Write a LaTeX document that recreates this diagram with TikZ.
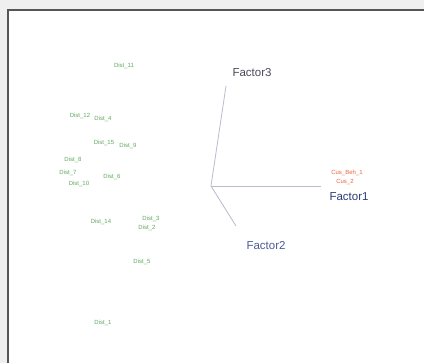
\documentclass[tikz,border=0pt]{standalone}
\usepackage{fontspec}
\setmainfont{Liberation Sans}
\definecolor{bggray}{HTML}{EEEFEE}
\definecolor{frame}{HTML}{555555}
\definecolor{axisline}{HTML}{BCBCCC}
\definecolor{distgreen}{HTML}{5FA860}
\definecolor{cusred}{HTML}{E8643C}
\definecolor{fone}{HTML}{2C3C78}
\definecolor{ftwo}{HTML}{4C5C98}
\definecolor{fthree}{HTML}{4A4A58}
\begin{document}
\begin{tikzpicture}[x=1pt,y=-1pt,
  dist/.style={text=distgreen,font=\fontsize{6}{6}\selectfont,inner sep=0pt},
  cus/.style={text=cusred,font=\fontsize{6}{6}\selectfont,inner sep=0pt},
  factor/.style={font=\fontsize{11.5}{12}\selectfont,inner sep=0pt},
  axis/.style={draw=axisline,line width=0.8pt}]
\useasboundingbox (0,0) rectangle (424,363);
\fill[bggray] (0,0) rectangle (424,363);
\fill[white] (7,9) rectangle (424,363);
\draw[frame,line width=1.6pt] (7.8,364) -- (7.8,9.8) -- (425,9.8);
% origin and axis ends
\coordinate (o) at (211,186);
\coordinate (e1) at (321,186);
\coordinate (e2) at (236,226);
\coordinate (e3) at (226,86);
\draw[axis] (o) -- (e1);
\draw[axis] (o) -- (e2);
\draw[axis] (o) -- (e3);
% factor labels
\node[factor,text=fone] (f1) at (349,197) {Factor1};
\node[factor,text=ftwo] (f2) at (266,246) {Factor2};
\node[factor,text=fthree] (f3) at (252,73) {Factor3};
% customer labels
\node[cus] (c1) at (347,173) {Cus\_Beh\_1};
\node[cus] (c2) at (345,182) {Cus\_2};
% district labels
\node[dist] (d11) at (124,66) {Dist\_11};
\node[dist] (d12) at (80,116) {Dist\_12};
\node[dist] (d4) at (103,119) {Dist\_4};
\node[dist] (d15) at (104,143) {Dist\_15};
\node[dist] (d9) at (128,146) {Dist\_9};
\node[dist] (d8) at (73,160) {Dist\_8};
\node[dist] (d7) at (68,173) {Dist\_7};
\node[dist] (d6) at (112,177) {Dist\_6};
\node[dist] (d10) at (79,184) {Dist\_10};
\node[dist] (d14) at (101,222) {Dist\_14};
\node[dist] (d3) at (151,219) {Dist\_3};
\node[dist] (d2) at (147,228) {Dist\_2};
\node[dist] (d5) at (142,262) {Dist\_5};
\node[dist] (d1) at (103,323) {Dist\_1};
\end{tikzpicture}
\end{document}
